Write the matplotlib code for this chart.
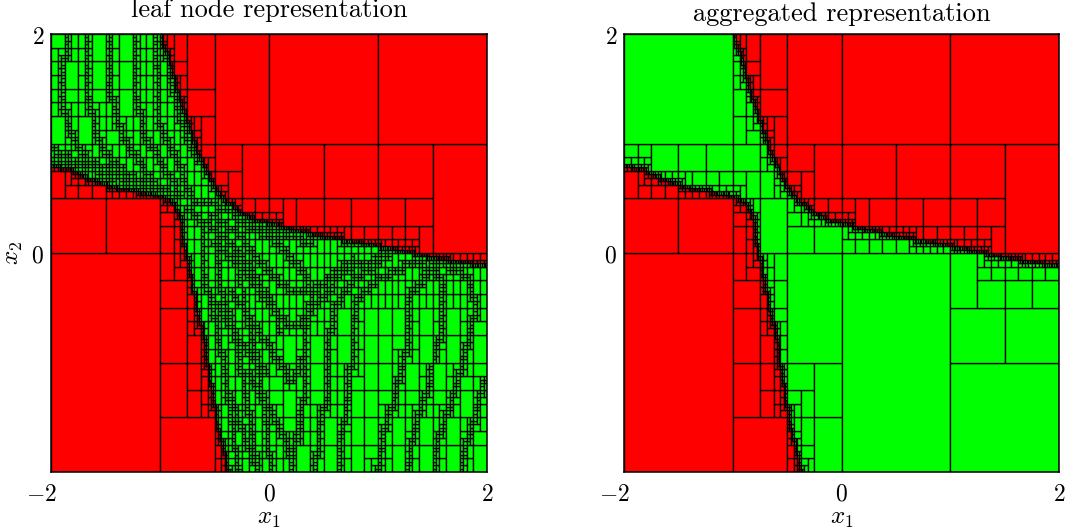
import numpy as np
import matplotlib
matplotlib.use("Agg")
import matplotlib.pyplot as plt
from matplotlib.collections import PolyCollection
from matplotlib.path import Path
from matplotlib.transforms import Affine2D, Bbox

plt.rcParams['mathtext.fontset'] = 'cm'

# switching curves (x1, x2)
upper_x = [-0.98, -0.97, -0.91, -0.89, -0.84, -0.78, -0.73, -0.68, -0.61, -0.55, -0.48, -0.38, -0.26, -0.08, 0.01, 0.17, 0.46, 0.83, 1.15, 1.48, 1.82, 2.0]
upper_y = [2.0, 1.9, 1.76, 1.66, 1.47, 1.28, 1.15, 0.98, 0.83, 0.69, 0.57, 0.47, 0.37, 0.29, 0.28, 0.23, 0.16, 0.10, 0.04, -0.04, -0.09, -0.11]
lower_x = [-2.0, -1.91, -1.82, -1.73, -1.56, -1.39, -1.24, -1.15, -0.96, -0.89, -0.82, -0.80, -0.78, -0.73, -0.71, -0.67, -0.64, -0.60, -0.57, -0.55, -0.51, -0.47, -0.42, -0.39, -0.37]
lower_y = [0.79, 0.78, 0.78, 0.71, 0.65, 0.59, 0.57, 0.55, 0.51, 0.46, 0.37, 0.24, 0.07, -0.15, -0.27, -0.45, -0.59, -0.70, -0.95, -1.10, -1.32, -1.59, -1.77, -1.92, -2.0]

# darker strands of small leaves in the left panel
strands = [
    # top left, running down towards the centre
    [(-1.86, 2.0), (-1.86, 1.85), (-1.9, 1.73), (-1.9, 1.46), (-1.86, 1.18), (-1.81, 1.06), (-1.72, 0.91), (-1.58, 0.82), (-1.43, 0.64)],
    [(-1.66, 2.0), (-1.67, 1.73), (-1.67, 1.43), (-1.61, 1.21), (-1.58, 1.03), (-1.46, 0.88), (-1.24, 0.67), (-1.09, 0.54)],
    [(-1.46, 2.0), (-1.46, 1.70), (-1.47, 1.49), (-1.41, 1.31), (-1.35, 1.06), (-1.24, 0.91), (-1.09, 0.7), (-0.97, 0.54)],
    [(-1.23, 2.0), (-1.23, 1.43), (-1.17, 1.25), (-1.15, 1.06), (-1.0, 0.85), (-0.85, 0.6)],
    [(-1.05, 2.0), (-1.03, 1.7), (-1.03, 1.4), (-1.0, 1.18), (-0.91, 0.97), (-0.79, 0.7), (-0.69, 0.48)],
    [(-0.98, 2.0), (-0.91, 1.64), (-0.85, 1.37), (-0.77, 1.09), (-0.66, 0.82)],
    [(-1.98, 0.96), (-1.83, 0.88), (-1.6, 0.8), (-1.3, 0.72), (-1.0, 0.6), (-0.8, 0.52)],
    [(-1.98, 0.85), (-1.75, 0.8), (-1.4, 0.7), (-1.05, 0.58), (-0.85, 0.5)],
    # bottom right, rising and bending into the upper curve
    [(1.48, -0.06), (1.72, -0.16), (1.87, -0.28), (1.88, -0.58), (1.84, -0.73), (1.79, -0.89), (1.77, -1.04), (1.66, -1.40), (1.54, -1.71), (1.51, -2.0)],
    [(1.97, -1.16), (1.87, -1.53), (1.78, -1.86), (1.75, -2.0)],
    [(1.32, -0.09), (1.45, -0.14), (1.61, -0.28), (1.57, -0.43), (1.57, -0.73), (1.51, -0.92), (1.48, -1.16), (1.40, -1.37), (1.32, -1.71), (1.26, -2.0)],
    [(1.6, -0.08), (1.45, -0.2), (1.26, -0.43), (1.28, -0.79), (1.23, -0.98), (1.19, -1.13), (1.13, -1.40), (1.06, -1.59), (0.99, -2.0)],
    [(1.32, -0.09), (1.03, -0.22), (0.79, -0.43), (0.77, -0.79), (0.74, -1.16), (0.70, -1.46), (0.65, -1.71), (0.64, -2.0)],
    [(1.02, -0.09), (0.77, -0.25), (0.59, -0.49), (0.54, -0.89), (0.54, -1.31), (0.47, -1.49), (0.44, -1.80), (0.41, -2.0)],
    [(0.77, -0.05), (0.59, -0.17), (0.38, -0.4), (0.33, -0.79), (0.32, -1.34), (0.28, -1.49), (0.21, -1.92), (0.19, -2.0)],
    # diagonals through the middle with their turning points
    [(-0.54, 0.35), (-0.29, 0.18), (-0.11, -0.06), (0.13, -0.29), (0.24, -0.36), (0.4, -0.33), (0.5, -0.25), (0.8, -0.1), (1.1, -0.02)],
    [(-0.3, 0.3), (0.1, 0.09), (0.31, -0.18), (0.36, -0.27)],
    [(-0.5, 0.1), (-0.2, -0.2), (0.0, -0.46), (0.19, -0.67), (0.25, -0.66), (0.33, -0.6), (0.4, -0.5), (0.59, -0.3)],
    [(-0.35, -0.35), (0.07, -0.95), (0.19, -1.16), (0.24, -1.1), (0.3, -0.95)],
    [(-0.2, -1.1), (0.13, -1.65), (0.19, -1.86), (0.24, -1.77), (0.3, -1.5)],
    [(-0.6, -0.3), (-0.4, -0.6), (-0.2, -0.9), (0.0, -1.1)],
    [(-0.35, -1.3), (-0.25, -1.6), (-0.15, -1.9)],
    [(-0.62, 0.3), (-0.6, -0.2), (-0.5, -0.6), (-0.42, -1.0), (-0.35, -1.5), (-0.28, -2.0)],
    [(-0.5, 0.2), (-0.45, -0.3), (-0.3, -0.8), (-0.2, -1.4), (-0.1, -2.0)],
    [(-0.3, 0.0), (-0.22, -0.5), (-0.12, -0.9), (-0.05, -1.4), (0.02, -2.0)],
    [(-0.7, 0.5), (-0.5, 0.45), (-0.2, 0.32), (0.1, 0.18), (0.4, 0.1)],
    [(-0.75, 0.4), (-0.55, 0.25), (-0.3, 0.05), (-0.1, -0.25), (0.05, -0.5), (0.1, -0.75)],
]

# parts of the left panel where even the largest green leaves are small
dense_x0 = [-0.75, -2.0, -1.2, -0.7, 0.6, -1.1]
dense_x1 = [0.6, -1.2, -0.6, 0.0, 2.0, -0.7]
dense_y0 = [-0.8, 0.5, 0.5, -2.0, -0.5, 1.0]
dense_y1 = [0.55, 1.0, 1.0, -0.8, 0.1, 2.0]
dense_depth = [11, 10, 11, 11, 11, 11]

x_ticks = [-2, 0, 2]
y_ticks = [0, 2]
titles = ['leaf node representation', 'aggregated representation']

upper_path = Path(np.column_stack([upper_x, upper_y]))
lower_path = Path(np.column_stack([lower_x, lower_y]))
strand_paths = [Path(np.array(s)) for s in strands]

CURVE_DEPTH = 15
STRAND_DEPTH = 14
GREEN_DEPTH = 9


def is_red(x, y):
    above = y > np.interp(x, upper_x, upper_y, left=10.0, right=-10.0)
    below = y < np.interp(x, lower_x, lower_y, left=10.0, right=-10.0)
    return above or below


def base_depth(x, y):
    d = GREEN_DEPTH
    for a, b, c, e, n in zip(dense_x0, dense_x1, dense_y0, dense_y1, dense_depth):
        if a <= x <= b and c <= y <= e:
            d = max(d, n)
    return d


def subdivide(x0, x1, y0, y1, depth, leaf, out):
    bb = Bbox([[x0, y0], [x1, y1]])
    on_curve = upper_path.intersects_bbox(bb, filled=False) or lower_path.intersects_bbox(bb, filled=False)
    split = on_curve and depth < CURVE_DEPTH
    if leaf and not split:
        xc, yc = (x0 + x1) / 2, (y0 + y1) / 2
        if not is_red(xc, yc):
            if depth < base_depth(xc, yc):
                split = True
            elif depth < STRAND_DEPTH:
                split = any(p.intersects_bbox(bb, filled=False) for p in strand_paths)
    if split:
        if depth % 2 == 0:
            xm = (x0 + x1) / 2
            subdivide(x0, xm, y0, y1, depth + 1, leaf, out)
            subdivide(xm, x1, y0, y1, depth + 1, leaf, out)
        else:
            ym = (y0 + y1) / 2
            subdivide(x0, x1, y0, ym, depth + 1, leaf, out)
            subdivide(x0, x1, ym, y1, depth + 1, leaf, out)
    else:
        out.append((x0, x1, y0, y1))


fig = plt.figure(figsize=(10.68, 5.30), dpi=100)
W, H = 1068.0, 530.0
ax_left = fig.add_axes([51 / W, 1 - 472 / H, 436 / W, 438 / H])
ax_right = fig.add_axes([624 / W, 1 - 472 / H, 435 / W, 438 / H])

for i, ax in enumerate([ax_left, ax_right]):
    cells = []
    subdivide(-2.0, 2.0, -2.0, 2.0, 0, i == 0, cells)
    verts = [[(a, c), (b, c), (b, d), (a, d)] for a, b, c, d in cells]
    cols = ['#ff0000' if is_red((a + b) / 2, (c + d) / 2) else '#00ff00' for a, b, c, d in cells]
    ax.add_collection(PolyCollection(verts, facecolors=cols, edgecolors='black', linewidths=0.95))
    ax.set_xlim(-2, 2)
    ax.set_ylim(-2, 2)
    ax.set_xticks(x_ticks)
    ax.set_yticks(y_ticks)
    ax.set_xticklabels(['$%d$' % v for v in x_ticks], fontsize=17)
    ax.set_yticklabels(['$%d$' % v for v in y_ticks], fontsize=17)
    ax.tick_params(length=0, pad=5)
    ax.tick_params(axis='x', pad=7)
    first = ax.get_xticklabels()[0]
    first.set_transform(first.get_transform() + Affine2D().translate(-10, 0))
    ax.set_xlabel('$x_1$', fontsize=18, labelpad=0)
    for s in ax.spines.values():
        s.set_linewidth(1.1)

ax_left.set_ylabel('$x_2$', fontsize=18)
ax_left.yaxis.set_label_coords(-0.06, 0.5)
fig.text(269.5 / W, 1 - 17 / H, titles[0], family='cmr10', fontsize=19, ha='center', va='baseline')
fig.text(842 / W, 1 - 21 / H, titles[1], family='cmr10', fontsize=19, ha='center', va='baseline')

plt.savefig('out.png', dpi=100)
